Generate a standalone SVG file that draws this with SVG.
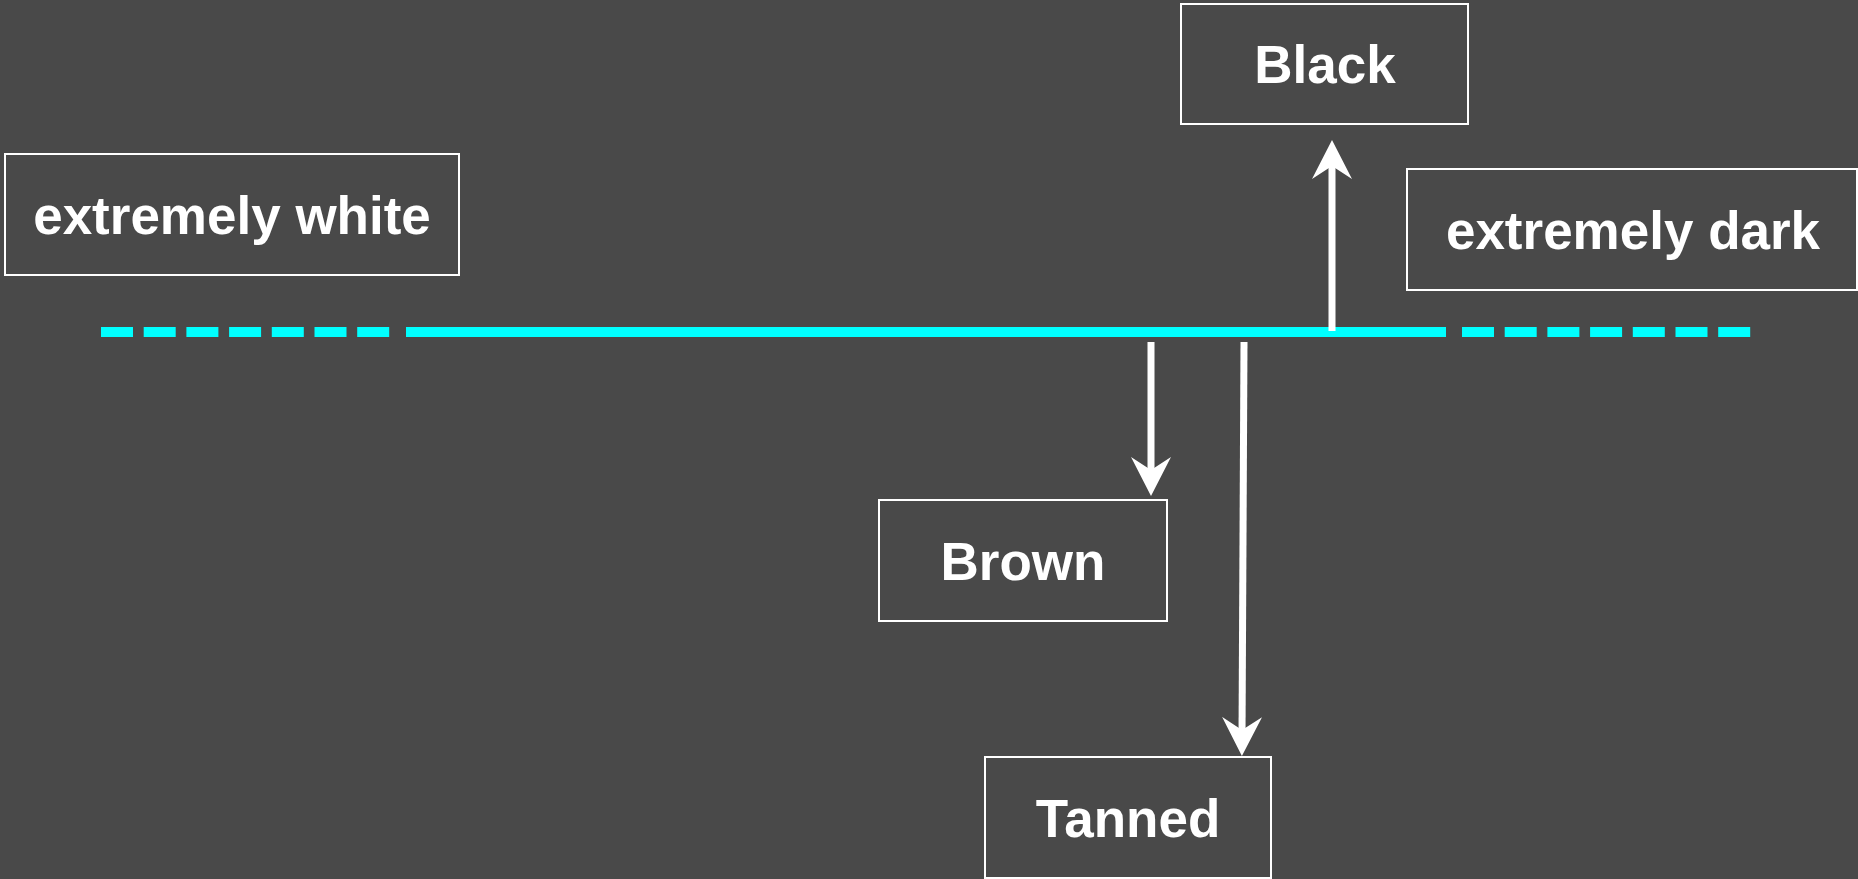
<svg xmlns="http://www.w3.org/2000/svg" width="1858" height="879" viewBox="0 0 1858 879">
<style>
.box{fill:none;stroke:#ffffff;stroke-width:2}
.lbl{fill:#ffffff;font-family:"Liberation Sans",Arial,sans-serif;font-weight:bold;font-size:53px;text-anchor:middle}
.axis{stroke:#00ffff;stroke-width:10;fill:none}
.dash{stroke-dasharray:32 10.7}
.arrow{stroke:#ffffff;stroke-width:7;fill:none;marker-end:url(#head)}
</style>
<defs>
<marker id="head" viewBox="0 0 39 40" refX="19" refY="20" markerWidth="39" markerHeight="40" markerUnits="userSpaceOnUse" orient="auto">
<path d="M0,0 L39,20 L0,40 L13,20 Z" fill="#ffffff"/>
</marker>
</defs>
<rect width="1858" height="879" fill="#494949"/>
<g id="connectors">
<line class="axis dash" x1="101" y1="332" x2="390" y2="332"/>
<line class="axis" x1="406" y1="332" x2="1446" y2="332"/>
<line class="axis dash" x1="1462" y1="332" x2="1752" y2="332"/>
<line class="arrow" x1="1332" y1="331" x2="1332" y2="160"/>
<line class="arrow" x1="1151" y1="342" x2="1151" y2="476"/>
<line class="arrow" x1="1244" y1="342" x2="1242" y2="736"/>
</g>
<g id="node-extremely-white">
<rect class="box" x="5" y="154" width="454" height="121"/>
<text class="lbl" x="232" y="234">extremely white</text>
</g>
<g id="node-black">
<rect class="box" x="1181" y="4" width="287" height="120"/>
<text class="lbl" x="1325" y="83">Black</text>
</g>
<g id="node-extremely-dark">
<rect class="box" x="1407" y="169" width="450" height="121"/>
<text class="lbl" x="1633" y="249">extremely dark</text>
</g>
<g id="node-brown">
<rect class="box" x="879" y="500" width="288" height="121"/>
<text class="lbl" x="1023" y="580">Brown</text>
</g>
<g id="node-tanned">
<rect class="box" x="985" y="757" width="286" height="121"/>
<text class="lbl" x="1128" y="837">Tanned</text>
</g>
</svg>
